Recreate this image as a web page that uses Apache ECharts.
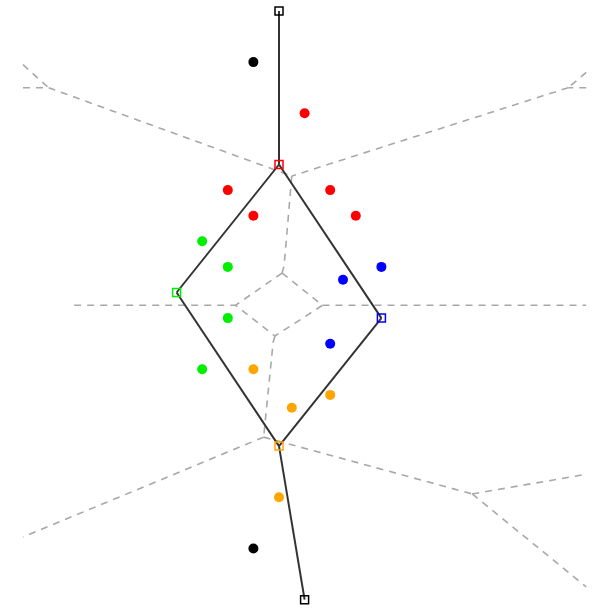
<!DOCTYPE html>
<html>
<head>
<meta charset="utf-8">
<script src="https://cdn.jsdelivr.net/npm/echarts@6/dist/echarts.min.js"></script>
<style>
  html, body {margin: 0; padding: 0; background: #fff;}
  #chart {width: 600px; height: 609px;}
</style>
</head>
<body>
<div id="chart"></div>
<script>
// chain of nodes (squares), in data units
var nodes = [[0, 11], [0, 5], [-4, 0], [4, -1], [0, -6], [1, -12]];
var nodeColors = ['#000000', '#ff0000', '#00ee00', '#0000ff', '#ffa500', '#000000'];
var links = [[0, 1], [1, 2], [1, 3], [2, 4], [3, 4], [4, 5]];

// samples, one list per group
var blackPts = [[-1, 9], [-1, -10]];
var redPts = [[1, 7], [-2, 4], [2, 4], [-1, 3], [3, 3]];
var greenPts = [[-3, 2], [-2, 1], [-2, -1], [-3, -3]];
var bluePts = [[4, 1], [2.5, 0.5], [2, -2]];
var orangePts = [[-1, -3], [2, -4], [0.5, -4.5], [0, -8]];

// dashed cell borders
var cellEdges = [
  [[-10, 8.9], [-9, 8]],
  [[-10, 8], [-9, 8]],
  [[-9, 8], [0.5, 4.55]],
  [[12, 8.6], [11.3, 8]],
  [[12, 8], [11.3, 8]],
  [[11.3, 8], [0.5, 4.55]],
  [[0.5, 4.55], [0.2, 1.05], [0.12, 0.76]],
  [[0.12, 0.76], [-1.7, -0.5], [-0.16, -1.7], [1.7, -0.5], [0.12, 0.76]],
  [[-8, -0.5], [-1.7, -0.5]],
  [[1.7, -0.5], [12, -0.5]],
  [[-0.16, -1.7], [-0.23, -1.95], [-0.6, -5.65]],
  [[-0.6, -5.65], [-10, -9.55]],
  [[-0.6, -5.65], [7.55, -7.87]],
  [[7.55, -7.87], [12, -7.1]],
  [[7.55, -7.87], [12, -11.5]]
];

var chart = echarts.init(document.getElementById('chart'));

var dotSeries = function (pts, color) {
  return {
    type: 'scatter',
    data: pts,
    symbol: 'circle',
    symbolSize: 10,
    itemStyle: {color: color, opacity: 1},
    z: 5
  };
};

chart.setOption({
  animation: false,
  grid: {left: 23, right: 13.8, top: 10.9, bottom: 9.3},
  xAxis: {type: 'value', min: -10, max: 12, show: false},
  yAxis: {type: 'value', min: -12, max: 11, show: false},
  series: [
    {
      type: 'lines',
      coordinateSystem: 'cartesian2d',
      polyline: true,
      data: cellEdges.map(function (e) { return {coords: e}; }),
      lineStyle: {color: '#a8a8a8', width: 1.6, type: [7, 6], opacity: 1},
      z: 1
    },
    {
      type: 'lines',
      coordinateSystem: 'cartesian2d',
      data: links.map(function (l) { return {coords: [nodes[l[0]], nodes[l[1]]]}; }),
      lineStyle: {color: '#333333', width: 2, opacity: 1},
      z: 2
    },
    {
      type: 'scatter',
      data: nodes.map(function (n, i) {
        return {value: n, itemStyle: {borderColor: nodeColors[i]}};
      }),
      symbol: 'rect',
      symbolSize: 8,
      itemStyle: {color: 'rgba(255,255,255,0)', borderWidth: 1.5, opacity: 1},
      z: 3
    },
    dotSeries(blackPts, '#000000'),
    dotSeries(redPts, '#ff0000'),
    dotSeries(greenPts, '#00ee00'),
    dotSeries(bluePts, '#0000ff'),
    dotSeries(orangePts, '#ffa500')
  ]
});
</script>
</body>
</html>
